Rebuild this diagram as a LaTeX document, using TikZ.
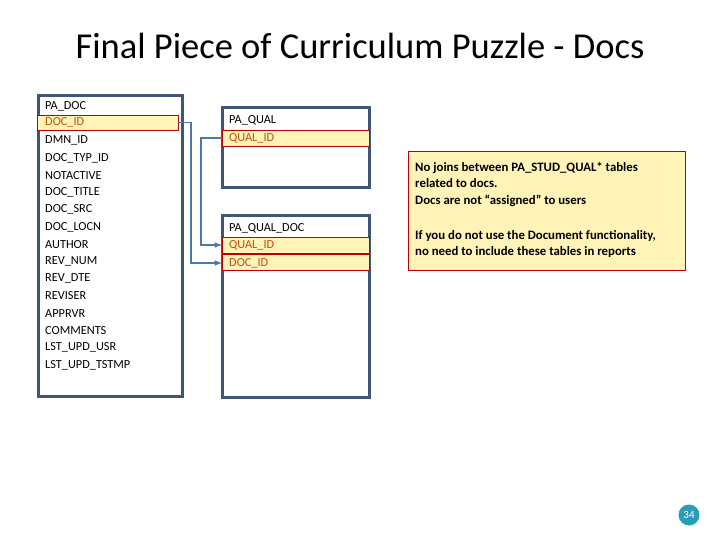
\documentclass[tikz,border=0pt]{standalone}
\usepackage{fontspec}
\setmainfont{Carlito}
\definecolor{tblc}{HTML}{3E5678}
\definecolor{connc}{HTML}{4A78AC}
\definecolor{keyc}{HTML}{C0500A}
\definecolor{hlfill}{HTML}{FFF3B8}
\definecolor{badge}{HTML}{2A9DBA}
\begin{document}
\begin{tikzpicture}[x=1pt,y=-1pt,
  tbl/.style={draw=tblc, line width=3pt, fill=white},
  hl/.style={draw=red!75!black, fill=hlfill, line width=0.7pt},
  row/.style={anchor=west, font=\fontsize{12.3}{13}\selectfont, inner sep=0pt},
  key/.style={row, text=keyc},
  notetxt/.style={anchor=west, font=\bfseries\fontsize{12.8}{16.7}\selectfont, inner sep=0pt, align=left},
  conn/.style={draw=connc, line width=1.5pt, -latex}]
\useasboundingbox (0,0) rectangle (720,540);
\node[font=\fontsize{36.5}{40}\selectfont] (title) at (360,46) {Final Piece of Curriculum Puzzle - Docs};
% PA_DOC
\draw[tbl] (38,96) rectangle (182,396);
\draw[hl] (37,115) rectangle (178,130);
\node[row] (pd) at (45,106) {PA\_DOC};
\node[key] (pdid) at (45,122.5) {DOC\_ID};
\foreach \t [count=\i] in {DMN\_ID,DOC\_TYP\_ID,NOTACTIVE,DOC\_TITLE,DOC\_SRC,DOC\_LOCN,AUTHOR,REV\_NUM,REV\_DTE,REVISER,APPRVR,COMMENTS,LST\_UPD\_USR,LST\_UPD\_TSTMP}
  \node[row] (r\i) at (45,123.5+17.25*\i) {\t};
% PA_QUAL
\draw[tbl] (222,108) rectangle (369,188);
\draw[hl] (222,130) rectangle (369,146);
\node[row] (pq) at (229,120) {PA\_QUAL};
\node[key] (pqid) at (229,138) {QUAL\_ID};
% PA_QUAL_DOC
\draw[tbl] (222,216) rectangle (369,397);
\draw[hl] (222,237) rectangle (369,253);
\draw[hl] (222,254) rectangle (369,270);
\node[row] (pqd) at (229,228) {PA\_QUAL\_DOC};
\node[key] (pqdq) at (229,245) {QUAL\_ID};
\node[key] (pqdd) at (229,263) {DOC\_ID};
\coordinate (a1) at (178,122.5);
\coordinate (a2) at (222,263);
\coordinate (b1) at (222,138);
\coordinate (b2) at (222,245);
\draw[conn] (a1) -- (191,122.5) |- (a2);
\draw[conn] (b1) -- (201,138) |- (b2);
% note
\node[draw=red!75!black, fill=hlfill, line width=0.7pt, minimum width=277pt, minimum height=119pt, anchor=north west] (note) at (408,151) {};
\node[notetxt] (n1) at (415,184.5) {No joins between PA\_STUD\_QUAL* tables\\related to docs.\\Docs are not “assigned” to users};
\node[notetxt] (n2) at (415,244) {If you do not use the Document functionality,\\no need to include these tables in reports};
\node[circle, fill=badge, minimum size=21pt, inner sep=0pt, text=white, font=\fontsize{11}{11}\selectfont] (pg) at (689,515) {34};
\end{tikzpicture}
\end{document}
